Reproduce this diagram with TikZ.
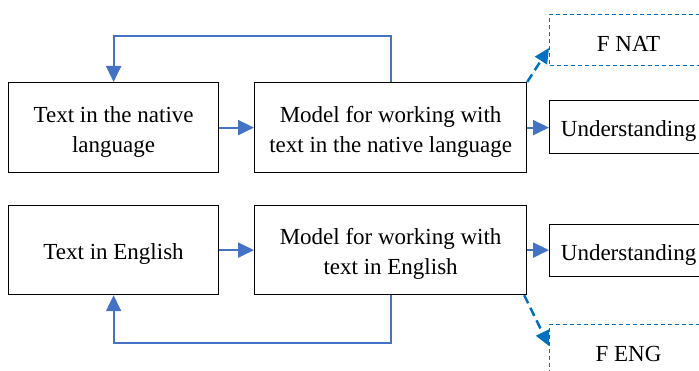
\documentclass[tikz,border=0pt]{standalone}
\usepackage{fontspec}
\setmainfont{Liberation Serif}
\usetikzlibrary{arrows.meta}
\definecolor{flowblue}{HTML}{4472C4}
\definecolor{dashblue}{HTML}{0070C0}
% tall invisible strut on the first line: sets box texts a little lower
\newcommand\lowerstrut{\rule{0pt}{24pt}}

\begin{document}
\begin{tikzpicture}[x=1pt,y=-1pt,
  box/.style={draw=black,line width=1.2pt,align=center,inner sep=0pt,
    font=\fontsize{23}{30}\selectfont,anchor=north west},
  fbox/.style={box,draw=dashblue,line width=1pt,dash pattern=on 4pt off 3pt},
  flow/.style={draw=flowblue,line width=2pt,
    -{Triangle[length=16pt,width=15pt]}},
  dflow/.style={draw=dashblue,line width=2.5pt,dash pattern=on 9pt off 5pt,
    -{Triangle[length=15pt,width=14pt]}}]
\useasboundingbox (0,0) rectangle (699,371);
\clip (0,0) rectangle (699,371);

% native-language row
\node[box,minimum width=210pt,minimum height=90pt] (tn) at (8,82)
  {\lowerstrut Text in the native\\language};
\node[box,minimum width=272pt,minimum height=90pt] (mn) at (254,82)
  {\lowerstrut Model for working with\\text in the native language};
\node[box,minimum width=158pt,minimum height=53pt] (un) at (549,100)
  {\lowerstrut Understanding};
\node[fbox,minimum width=158pt,minimum height=51pt] (fn) at (549,14)
  {\lowerstrut F NAT};

% English row
\node[box,minimum width=210pt,minimum height=89pt] (te) at (8,205)
  {\lowerstrut Text in English};
\node[box,minimum width=272pt,minimum height=89pt] (me) at (254,205)
  {\lowerstrut Model for working with\\text in English};
\node[box,minimum width=158pt,minimum height=52pt] (ue) at (549,224)
  {\lowerstrut Understanding};
\node[fbox,minimum width=158pt,minimum height=51pt] (fe) at (549,324)
  {\lowerstrut F ENG};

% connectors
\draw[flow] (tn) -- (mn);
\draw[flow] (mn.east) -- (mn.east -| un.west);
\draw[flow] (mn.north) -- ++(0,-46) -| (tn.north);
\draw[dflow] (mn.north east) -- ([yshift=-8pt]fn.west);

\draw[flow] (te) -- (me);
\draw[flow] (me.east) -- (me.east -| ue.west);
\draw[flow] (me.south) -- ++(0,48) -| (te.south);
\draw[dflow] ([xshift=-3pt]me.south east) -- ([yshift=4pt]fe.west);
\end{tikzpicture}
\end{document}
